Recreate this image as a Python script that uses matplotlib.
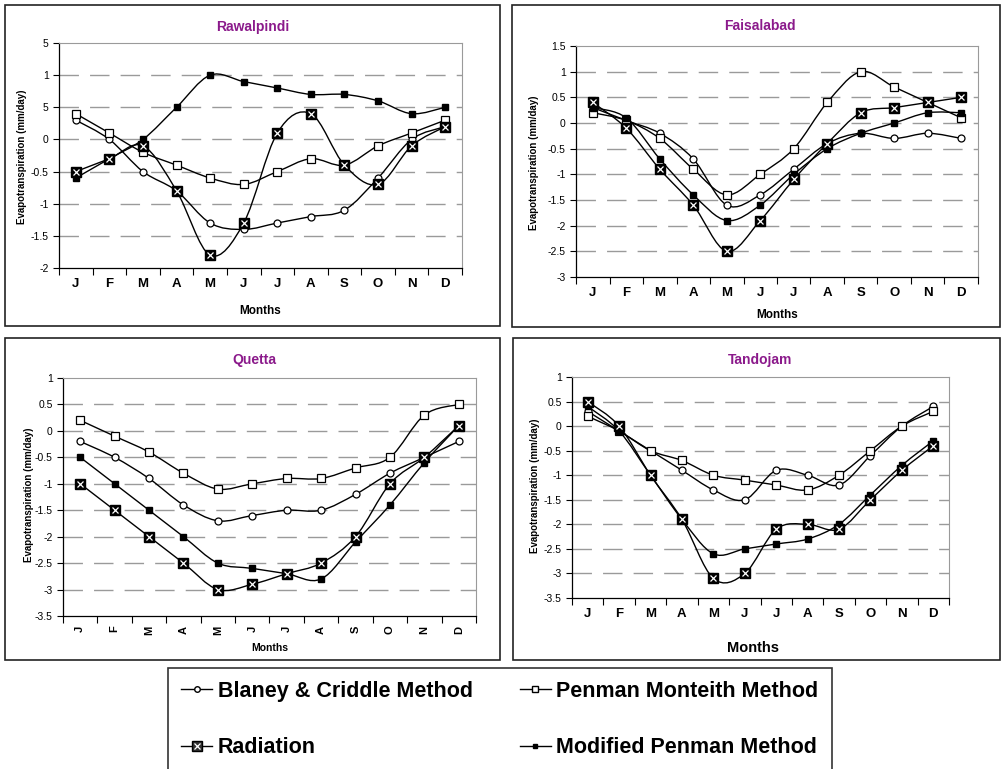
import numpy as np
import matplotlib
matplotlib.use("Agg")
import matplotlib.pyplot as plt
from matplotlib.path import Path
from matplotlib.patches import PathPatch, Rectangle
from matplotlib.lines import Line2D
from matplotlib.legend_handler import HandlerTuple

plt.rcParams['font.family'] = ['Liberation Sans', 'DejaVu Sans']

months = ['J', 'F', 'M', 'A', 'M', 'J', 'J', 'A', 'S', 'O', 'N', 'D']

# Rawalpindi
rwp_blaney = [0.3, 0.0, -0.5, -0.8, -1.3, -1.4, -1.3, -1.2, -1.1, -0.6, 0.0, 0.2]
rwp_pm = [0.4, 0.1, -0.2, -0.4, -0.6, -0.7, -0.5, -0.3, -0.4, -0.1, 0.1, 0.3]
rwp_rad = [-0.5, -0.3, -0.1, -0.8, -1.8, -1.3, 0.1, 0.4, -0.4, -0.7, -0.1, 0.2]
rwp_mod = [-0.6, -0.3, 0.0, 0.5, 1.0, 0.9, 0.8, 0.7, 0.7, 0.6, 0.4, 0.5]

# Faisalabad
fsd_blaney = [0.3, 0.05, -0.2, -0.7, -1.6, -1.4, -0.9, -0.4, -0.2, -0.3, -0.2, -0.3]
fsd_pm = [0.2, 0.05, -0.3, -0.9, -1.4, -1.0, -0.5, 0.4, 1.0, 0.7, 0.4, 0.1]
fsd_rad = [0.4, -0.1, -0.9, -1.6, -2.5, -1.9, -1.1, -0.4, 0.2, 0.3, 0.4, 0.5]
fsd_mod = [0.3, 0.1, -0.7, -1.4, -1.9, -1.6, -1.0, -0.5, -0.2, 0.0, 0.2, 0.2]

# Quetta
qta_blaney = [-0.2, -0.5, -0.9, -1.4, -1.7, -1.6, -1.5, -1.5, -1.2, -0.8, -0.5, -0.2]
qta_pm = [0.2, -0.1, -0.4, -0.8, -1.1, -1.0, -0.9, -0.9, -0.7, -0.5, 0.3, 0.5]
qta_rad = [-1.0, -1.5, -2.0, -2.5, -3.0, -2.9, -2.7, -2.5, -2.0, -1.0, -0.5, 0.1]
qta_mod = [-0.5, -1.0, -1.5, -2.0, -2.5, -2.6, -2.7, -2.8, -2.1, -1.4, -0.6, 0.1]

# Tandojam
tdj_blaney = [0.3, -0.1, -0.5, -0.9, -1.3, -1.5, -0.9, -1.0, -1.2, -0.6, 0.0, 0.4]
tdj_pm = [0.2, -0.1, -0.5, -0.7, -1.0, -1.1, -1.2, -1.3, -1.0, -0.5, 0.0, 0.3]
tdj_rad = [0.5, 0.0, -1.0, -1.9, -3.1, -3.0, -2.1, -2.0, -2.1, -1.5, -0.9, -0.4]
tdj_mod = [0.4, -0.1, -1.0, -1.9, -2.6, -2.5, -2.4, -2.3, -2.0, -1.4, -0.8, -0.3]

# y ticks (Rawalpindi labels are printed truncated in the original)
rwp_ticks = [-2, -1.5, -1, -0.5, 0, 0.5, 1, 1.5]
rwp_labels = ['-2', '-1.5', '-1', '-0.5', '0', '5', '1', '5']
fsd_ticks = [-3, -2.5, -2, -1.5, -1, -0.5, 0, 0.5, 1, 1.5]
qta_ticks = [-3.5, -3, -2.5, -2, -1.5, -1, -0.5, 0, 0.5, 1]
tdj_ticks = [-3.5, -3, -2.5, -2, -1.5, -1, -0.5, 0, 0.5, 1]

legend_labels = ['Blaney & Criddle Method', 'Radiation',
                 'Penman Monteith Method', 'Modified Penman Method']

W, H = 1004, 769
fig = plt.figure(figsize=(W / 100, H / 100), dpi=100)
purple = '#8B1A8B'


def box(l, t, r, b):
    fig.patches.append(Rectangle((l / W, 1 - b / H), (r - l) / W, (b - t) / H,
                                 transform=fig.transFigure, fill=False,
                                 edgecolor='#222222', linewidth=1.2))


def make_ax(l, t, r, b):
    return fig.add_axes([l / W, 1 - b / H, (r - l) / W, (b - t) / H])


def smooth(ax, x, y):
    # Excel-like smoothed line: cubic Bezier segments through the points
    x = np.asarray(x, float)
    y = np.asarray(y, float)
    p = np.column_stack([x, y])
    n = len(p)
    verts = [p[0]]
    codes = [Path.MOVETO]
    for i in range(n - 1):
        p0 = p[i - 1] if i > 0 else p[i]
        p3 = p[i + 2] if i + 2 < n else p[i + 1]
        c1 = p[i] + (p[i + 1] - p0) / 6
        c2 = p[i + 1] - (p3 - p[i]) / 6
        verts += [c1, c2, p[i + 1]]
        codes += [Path.CURVE4] * 3
    ax.add_patch(PathPatch(Path(verts, codes), fill=False, edgecolor='black',
                           linewidth=1.0, zorder=2))


def panel(ax, series, ticks, labels=None, rot=0, msize=9.5):
    x = np.arange(12) + 0.5
    blaney, pm, rad, mod = series
    for s in series:
        smooth(ax, x, s)
    ax.plot(x, blaney, 'o', ms=5, mfc='white', mec='black', mew=0.9, zorder=3)
    ax.plot(x, pm, 's', ms=5.5, mfc='white', mec='black', mew=0.9, zorder=3)
    ax.plot(x, mod, 's', ms=3.8, mfc='black', mec='black', zorder=4)
    ax.plot(x, rad, 's', ms=7, mfc='black', mec='black', zorder=5)
    ax.plot(x, rad, 'x', ms=5, mec='white', mew=0.9, zorder=6)
    ax.set_xlim(0, 12)
    ax.set_ylim(ticks[0], ticks[-1])
    ax.set_yticks(ticks)
    ax.set_yticklabels(labels if labels else [f'{t:g}' for t in ticks])
    ax.set_xticks(np.arange(13))
    ax.set_xticklabels([])
    ax.set_xticks(x, minor=True)
    ax.set_xticklabels(months, minor=True, fontsize=msize, fontweight='bold',
                       rotation=rot)
    ax.tick_params(axis='x', which='major', length=5, direction='out', width=0.8)
    ax.tick_params(axis='x', which='minor', length=0, pad=7)
    ax.tick_params(axis='y', length=4, direction='out', labelsize=7.5, width=0.8)
    for t in ticks[1:-1]:
        ax.axhline(t, color='#9a9a9a', linewidth=1.0, dashes=(14, 8), zorder=1)
    ax.spines['top'].set_color('#9a9a9a')
    ax.spines['right'].set_color('#9a9a9a')
    ax.spines['left'].set_linewidth(0.9)
    ax.spines['bottom'].set_linewidth(0.9)


# panel frames
box(5, 5, 500, 326)
box(512, 5, 1000, 327)
box(5, 338, 500, 660)
box(513, 338, 1000, 660)

ax1 = make_ax(59, 43, 462, 268)
panel(ax1, [rwp_blaney, rwp_pm, rwp_rad, rwp_mod], rwp_ticks, rwp_labels)
ax2 = make_ax(576, 46, 978, 277)
panel(ax2, [fsd_blaney, fsd_pm, fsd_rad, fsd_mod], fsd_ticks)
ax3 = make_ax(63, 378, 476, 616)
panel(ax3, [qta_blaney, qta_pm, qta_rad, qta_mod], qta_ticks, rot=90, msize=8)
ax4 = make_ax(572, 377, 949, 598)
panel(ax4, [tdj_blaney, tdj_pm, tdj_rad, tdj_mod], tdj_ticks)


def ftext(x, y, s, **kw):
    fig.text(x / W, 1 - y / H, s, ha='center', va='center', fontweight='bold', **kw)


ftext(253, 27, 'Rawalpindi', fontsize=10, color=purple)
ftext(760, 26, 'Faisalabad', fontsize=10, color=purple)
ftext(254, 360, 'Quetta', fontsize=10, color=purple)
ftext(760, 360, 'Tandojam', fontsize=10, color=purple)

ftext(260, 311, 'Months', fontsize=8.5)
ftext(777, 315, 'Months', fontsize=8.5)
ftext(270, 648, 'Months', fontsize=7.5)
ftext(753, 648, 'Months', fontsize=10.5)

ylab = 'Evapotranspiration (mm/day)'
ftext(22, 157, ylab, fontsize=7, rotation=90)
ftext(534, 163, ylab, fontsize=7, rotation=90)
ftext(29, 495, ylab, fontsize=7, rotation=90)
ftext(535, 486, ylab, fontsize=7, rotation=90)

# legend
h_bl = Line2D([], [], color='black', lw=1, marker='o', ms=4, mfc='white', mec='black')
h_pm = Line2D([], [], color='black', lw=1, marker='s', ms=4.5, mfc='white', mec='black')
h_rad_line = Line2D([], [], color='black', lw=1, marker='s', ms=6.5,
                    mfc='#333333', mec='black')
h_rad_x = Line2D([], [], ls='none', marker='x', ms=4.5, mec='white', mew=0.9)
h_mod = Line2D([], [], color='black', lw=1, marker='s', ms=3.5, mfc='black', mec='black')

leg = fig.legend([h_bl, (h_rad_line, h_rad_x), h_pm, h_mod], legend_labels,
                 handler_map={tuple: HandlerTuple(ndivide=1)},
                 ncol=2, loc='upper left', bbox_to_anchor=(168 / W, 1 - 668 / H),
                 frameon=True, fancybox=False, edgecolor='black',
                 prop={'weight': 'bold', 'size': 15.5}, handlelength=1.45,
                 handletextpad=0.25, columnspacing=2.2, labelspacing=1.65,
                 borderpad=0.6, borderaxespad=0)
leg.get_frame().set_linewidth(1.2)

fig.savefig('out.png', dpi=100)
